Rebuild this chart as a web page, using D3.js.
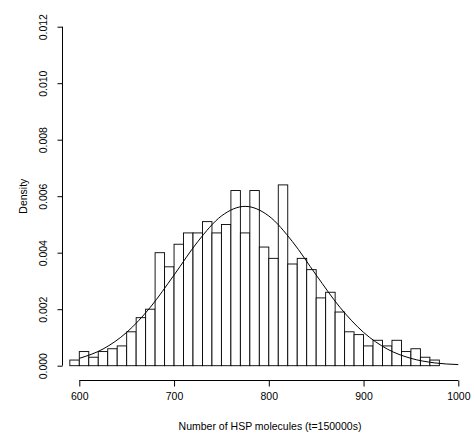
<!DOCTYPE html>
<html>
<head>
<meta charset="utf-8">
<script src="https://cdn.jsdelivr.net/npm/d3@7"></script>
<style>
  body { margin: 0; background: #fff; }
  text { font-family: "Liberation Sans", Arial, sans-serif; font-size: 10.5px; fill: #000; }
</style>
</head>
<body>
<div id="chart"></div>
<script>
// Histogram bins (width 10), left edges
const binStarts = d3.range(590, 980, 10);
// Density of each bin
const binDensity = [
  0.0002, 0.0005, 0.0003, 0.0005, 0.0006, 0.0007, 0.0012, 0.0017, 0.0020, 0.0040,
  0.0035, 0.0043, 0.0047, 0.0047, 0.0051, 0.0047, 0.0050, 0.0062, 0.0047, 0.0062,
  0.0042, 0.0038, 0.0064, 0.0036, 0.0038, 0.0034, 0.0024, 0.0026, 0.0019, 0.0012,
  0.0011, 0.0007, 0.0009, 0.0007, 0.0009, 0.0005, 0.0006, 0.0003, 0.0002
];
// Fitted density curve
const curveX = [600, 625, 650, 675, 700, 725, 750, 775, 800, 825, 850, 875, 900, 925, 950, 975, 1000];
const curveY = [0.00026, 0.00059, 0.00118, 0.00207, 0.00321, 0.00439, 0.00530, 0.00564, 0.00530,
                0.00439, 0.00321, 0.00207, 0.00118, 0.00059, 0.00026, 0.00010, 0.00004];
const xTicks = [600, 700, 800, 900, 1000];
const yTicks = [0, 0.002, 0.004, 0.006, 0.008, 0.010, 0.012];

const width = 474, height = 445;

const svg = d3.select("#chart")
    .append("svg")
    .attr("width", width)
    .attr("height", height);

const x = d3.scaleLinear().domain([600, 1000]).range([79.3, 458.3]);
const y = d3.scaleLinear().domain([0, 0.012]).range([365.7, 26.7]);

// Bars
svg.selectAll("rect.bar")
    .data(binStarts.map((s, i) => ({start: s, value: binDensity[i]})))
    .join("rect")
    .attr("class", "bar")
    .attr("x", d => x(d.start))
    .attr("y", d => y(d.value))
    .attr("width", d => x(d.start + 10) - x(d.start))
    .attr("height", d => y(0) - y(d.value))
    .attr("fill", "#fff")
    .attr("stroke", "#000")
    .attr("stroke-width", 0.9);

// Density curve
const line = d3.line()
    .x(d => x(d[0]))
    .y(d => y(d[1]))
    .curve(d3.curveMonotoneX);

svg.append("path")
    .datum(curveX.map((v, i) => [v, curveY[i]]))
    .attr("fill", "none")
    .attr("stroke", "#000")
    .attr("stroke-width", 1)
    .attr("d", line);

// X axis
const xAxis = svg.append("g")
    .attr("transform", "translate(0,380.5)")
    .call(d3.axisBottom(x).tickValues(xTicks).tickSize(6).tickPadding(6).tickFormat(d3.format("d")));
xAxis.select(".domain").attr("d", `M${x(600)},0H${x(1000)}`);
xAxis.selectAll("text").attr("font-size", null).attr("font-family", null);

// Y axis
const yAxis = svg.append("g")
    .attr("transform", "translate(62.5,0)")
    .call(d3.axisLeft(y).tickValues(yTicks).tickSize(5).tickFormat(d3.format(".3f")));
yAxis.select(".domain").attr("d", `M0,${y(0)}V${y(0.012)}`);
yAxis.selectAll(".tick text")
    .attr("font-size", null)
    .attr("font-family", null)
    .attr("x", null)
    .attr("dy", null)
    .attr("y", 0)
    .attr("text-anchor", "middle")
    .attr("transform", "translate(-16,0) rotate(-90)");

// Axis titles
svg.append("text")
    .attr("x", 270)
    .attr("y", 430)
    .attr("text-anchor", "middle")
    .text("Number of HSP molecules (t=150000s)");

svg.append("text")
    .attr("transform", `translate(26.5,${(y(0) + y(0.012)) / 2}) rotate(-90)`)
    .attr("text-anchor", "middle")
    .text("Density");
</script>
</body>
</html>
